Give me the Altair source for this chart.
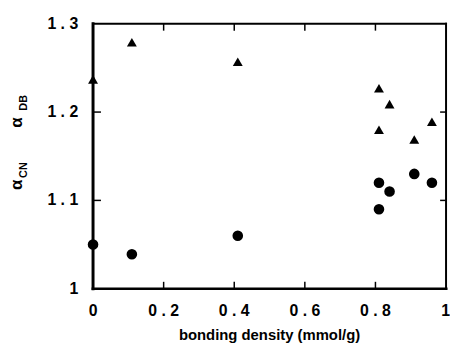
import altair as alt
import pandas as pd

# Data
density = [0.0, 0.11, 0.41, 0.81, 0.84, 0.81, 0.91, 0.96]
alpha_db = [1.237, 1.279, 1.257, 1.227, 1.209, 1.180, 1.169, 1.189]
alpha_cn = [1.050, 1.039, 1.060, 1.120, 1.110, 1.090, 1.130, 1.120]
x_ticks = [0.2, 0.4, 0.6, 0.8]
y_ticks = [1.1, 1.2]
x_label_values = [0, 0.2, 0.4, 0.6, 0.8]
x_label_text = ["0", "0 . 2", "0 . 4", "0 . 6", "0 . 8"]
x_last_value = [1]
x_last_text = ["1"]
y_label_values = [1, 1.1, 1.2, 1.3]
y_label_text = ["1", "1 . 1", "1 . 2", "1 . 3"]
x_title = "bonding density (mmol/g)"
ALPHA_EXPR = "'\\u03b1'"   # Greek small alpha, built inside Vega

W, H = 357, 268
FONT = "Liberation Sans"

df = pd.DataFrame({"density": density, "db": alpha_db, "cn": alpha_cn})
xt = pd.DataFrame({"v": x_ticks})
yt = pd.DataFrame({"v": y_ticks})
xl = pd.DataFrame({"v": x_label_values, "t": x_label_text})
xl1 = pd.DataFrame({"v": x_last_value, "t": x_last_text})
yl = pd.DataFrame({"v": y_label_values, "t": y_label_text})
one = pd.DataFrame({"k": [0]})

xscale = alt.Scale(domain=[0, 1], nice=False, zero=False)
yscale = alt.Scale(domain=[1.0, 1.3], nice=False, zero=False)
noaxis = alt.Axis(labels=False, ticks=False, domain=False, grid=False, title=None)

base = alt.Chart(df)
tri = base.mark_point(shape="triangle-up", filled=True, color="black", size=100, opacity=1).encode(
    x=alt.X("density:Q", scale=xscale, axis=noaxis),
    y=alt.Y("db:Q", scale=yscale, axis=noaxis),
)
circ = base.mark_point(shape="circle", filled=True, color="black", size=115, opacity=1).encode(
    x=alt.X("density:Q", scale=xscale),
    y=alt.Y("cn:Q", scale=yscale),
)

bounds = alt.Chart(one).mark_rect(fillOpacity=0, strokeWidth=0).encode(
    x=alt.value(-84), x2=alt.value(W + 1), y=alt.value(-14), y2=alt.value(H + 56))


def hbar(length, thick):
    h = thick / length
    return f"M-1,{-h:.5f}H1V{h:.5f}H-1Z", length ** 2


def vbar(length, thick):
    w = thick / length
    return f"M{-w:.5f},-1H{w:.5f}V1H{-w:.5f}Z", length ** 2


def line_sym(data, shape_size, **enc):
    shape, size = shape_size
    return alt.Chart(data).mark_point(shape=shape, size=size, filled=True, color="black",
                                      opacity=1, strokeWidth=0).encode(**enc)


# frame: drawn as thin filled bars
frame = [
    line_sym(one, hbar(W + 2, 2), x=alt.value(W / 2), y=alt.value(0)),
    line_sym(one, hbar(W + 3, 2.5), x=alt.value(W / 2), y=alt.value(H)),
    line_sym(one, vbar(H + 3, 3), x=alt.value(0), y=alt.value(H / 2)),
    line_sym(one, vbar(H + 2, 2), x=alt.value(W), y=alt.value(H / 2)),
]

ticks = [
    line_sym(xt, vbar(7, 1.5), x=alt.X("v:Q", scale=xscale), y=alt.value(3.5)),
    line_sym(xt, vbar(7, 1.5), x=alt.X("v:Q", scale=xscale), y=alt.value(H - 3.5)),
    line_sym(yt, hbar(8, 1.5), y=alt.Y("v:Q", scale=yscale), x=alt.value(4)),
    line_sym(yt, hbar(6, 1.5), y=alt.Y("v:Q", scale=yscale), x=alt.value(W - 3)),
]

lab_style = dict(font=FONT, fontSize=16, fontWeight="bold", color="black")
x_labs = alt.Chart(xl).mark_text(align="center", baseline="top", **lab_style).encode(
    x=alt.X("v:Q", scale=xscale), y=alt.value(H + 15), text="t:N")
x_last = alt.Chart(xl1).mark_text(align="right", baseline="top", dx=4, **lab_style).encode(
    x=alt.X("v:Q", scale=xscale), y=alt.value(H + 15), text="t:N")
y_labs = alt.Chart(yl).mark_text(align="right", baseline="middle", **lab_style).encode(
    y=alt.Y("v:Q", scale=yscale), x=alt.value(-15), text="t:N")

x_ttl = alt.Chart(one).mark_text(text=x_title, align="center", baseline="alphabetic",
                                 font=FONT, fontSize=15, fontWeight="bold", color="black").encode(
    x=alt.value(W / 2), y=alt.value(H + 52))


def sub(s, x, y, size):
    return alt.Chart(one).mark_text(text=s, angle=270, align="center", baseline="middle",
                                    font=FONT, fontSize=size, fontWeight="bold", color="black").encode(
        x=alt.value(x), y=alt.value(y))


def alpha(x, y):
    return alt.Chart(one).transform_calculate(a=ALPHA_EXPR).mark_text(
        angle=270, align="center", baseline="middle",
        font=FONT, fontSize=17, fontWeight="bold", color="black").encode(
        x=alt.value(x), y=alt.value(y), text="a:N")


titles = [alpha(-77, 100), sub("DB", -70, 80, 11), alpha(-77, 163), sub("CN", -70, 148, 11)]

chart = alt.layer(bounds, tri, circ, *frame, *ticks,
                  x_labs, x_last, y_labs, x_ttl, *titles).properties(
    width=W, height=H, padding=0,
).configure_view(strokeWidth=0)

chart.save("out.html", embed_options={"renderer": "svg", "actions": False})
